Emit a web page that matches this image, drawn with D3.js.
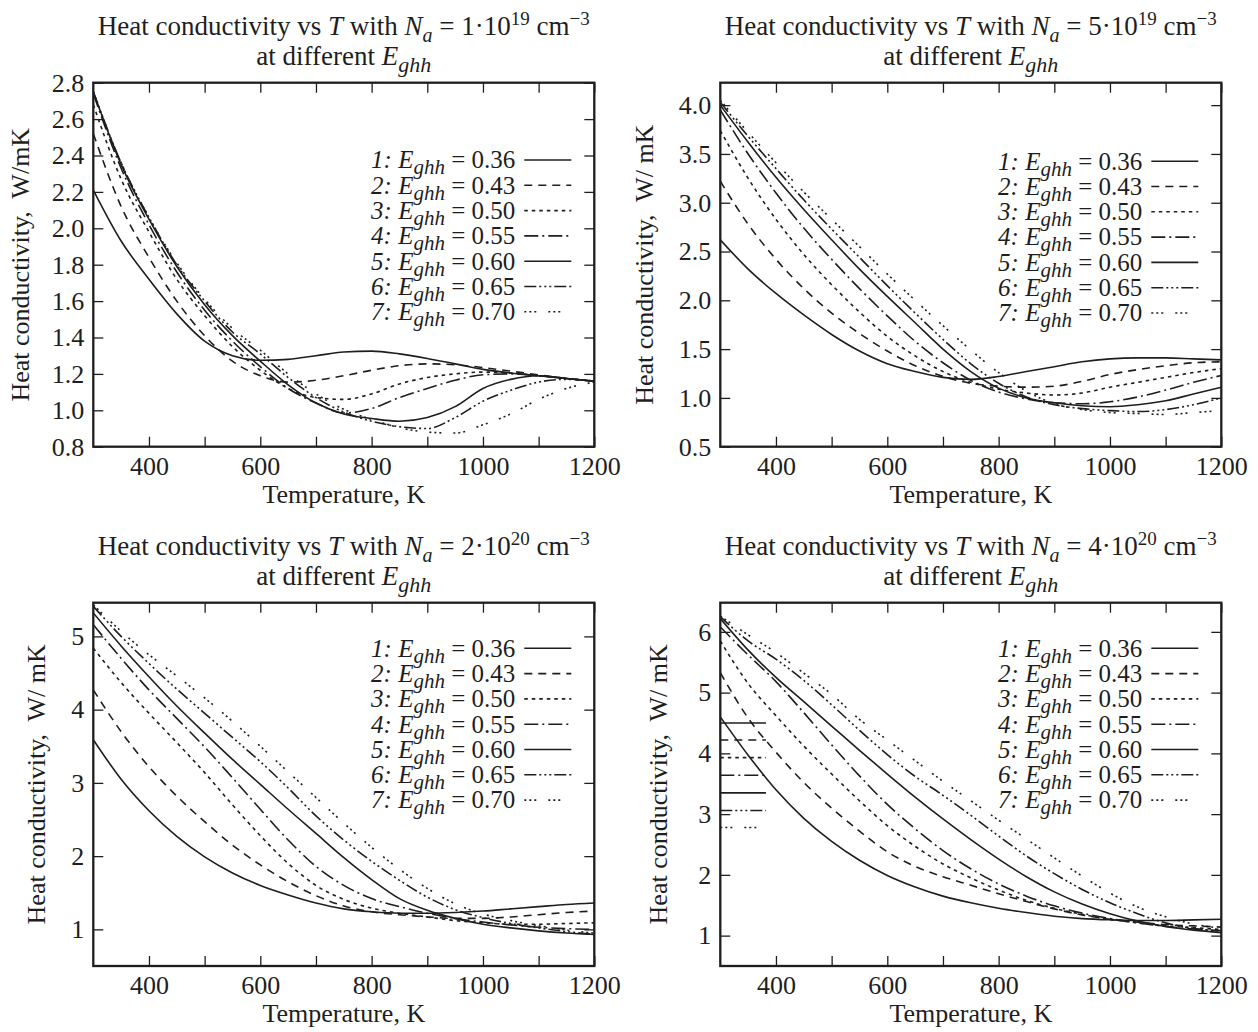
<!DOCTYPE html>
<meta charset="utf-8">

<!-- Load d3.js -->
<script src="https://d3js.org/d3.v7.min.js"></script>

<body>
    <div id="viz"></div>
</body>

<style>
    body { margin: 0; background: #fff; }
    #viz { margin: 0; }
    text {
        font-family: "Liberation Serif", "Times New Roman", serif;
        fill: #1e1e1e;
        white-space: pre;
    }
</style>

<script>
    // temperature grid (K)
    let temps = [300, 350, 400, 450, 500, 550, 600, 650, 700, 750, 800, 850, 900, 950, 1000, 1050, 1100, 1150, 1200];

    // E_ghh values of the 7 curves
    let eghh = ["0.36", "0.43", "0.50", "0.55", "0.60", "0.65", "0.70"];

    // Na = 1e19 cm^-3, curves 1..7
    let kappa1e19 = [
        [2.21, 1.93, 1.72, 1.53, 1.38, 1.30, 1.275, 1.28, 1.30, 1.32, 1.325, 1.31, 1.285, 1.255, 1.225, 1.205, 1.19, 1.175, 1.16],
        [2.52, 2.12, 1.84, 1.60, 1.41, 1.27, 1.19, 1.155, 1.165, 1.19, 1.22, 1.245, 1.255, 1.25, 1.235, 1.215, 1.195, 1.175, 1.16],
        [2.68, 2.27, 1.98, 1.72, 1.52, 1.35, 1.22, 1.12, 1.07, 1.06, 1.09, 1.145, 1.18, 1.20, 1.21, 1.205, 1.19, 1.175, 1.16],
        [2.74, 2.33, 2.02, 1.76, 1.55, 1.38, 1.24, 1.12, 1.04, 0.985, 1.01, 1.07, 1.12, 1.165, 1.195, 1.20, 1.19, 1.175, 1.16],
        [2.75, 2.35, 2.05, 1.79, 1.58, 1.41, 1.27, 1.14, 1.04, 0.98, 0.955, 0.94, 0.96, 1.02, 1.12, 1.17, 1.19, 1.175, 1.16],
        [2.75, 2.36, 2.06, 1.80, 1.60, 1.43, 1.31, 1.18, 1.07, 0.99, 0.94, 0.91, 0.90, 0.96, 1.05, 1.11, 1.155, 1.17, 1.16],
        [2.75, 2.36, 2.06, 1.81, 1.61, 1.45, 1.33, 1.20, 1.09, 1.005, 0.95, 0.905, 0.88, 0.875, 0.92, 0.98, 1.06, 1.12, 1.155]
    ];

    // Na = 5e19 cm^-3
    let kappa5e19 = [
        [2.62, 2.32, 2.07, 1.85, 1.65, 1.48, 1.35, 1.27, 1.21, 1.19, 1.22, 1.27, 1.32, 1.37, 1.40, 1.41, 1.41, 1.40, 1.39],
        [3.22, 2.78, 2.42, 2.12, 1.87, 1.66, 1.48, 1.33, 1.22, 1.15, 1.12, 1.11, 1.12, 1.17, 1.24, 1.29, 1.33, 1.36, 1.37],
        [3.74, 3.25, 2.83, 2.47, 2.16, 1.88, 1.63, 1.43, 1.27, 1.16, 1.09, 1.05, 1.03, 1.05, 1.11, 1.16, 1.21, 1.26, 1.30],
        [3.95, 3.50, 3.10, 2.74, 2.42, 2.12, 1.84, 1.58, 1.36, 1.18, 1.06, 0.99, 0.95, 0.94, 0.96, 1.01, 1.08, 1.16, 1.23],
        [4.00, 3.62, 3.26, 2.93, 2.62, 2.32, 2.04, 1.77, 1.50, 1.27, 1.10, 1.00, 0.95, 0.92, 0.91, 0.93, 0.97, 1.04, 1.11],
        [4.03, 3.68, 3.35, 3.03, 2.73, 2.44, 2.15, 1.87, 1.60, 1.35, 1.15, 1.01, 0.93, 0.89, 0.87, 0.86, 0.88, 0.93, 1.00],
        [4.05, 3.72, 3.41, 3.11, 2.83, 2.55, 2.27, 2.00, 1.74, 1.49, 1.26, 1.07, 0.94, 0.88, 0.85, 0.84, 0.83, 0.85, 0.87]
    ];

    // Na = 2e20 cm^-3
    let kappa2e20 = [
        [3.59, 3.05, 2.62, 2.27, 1.99, 1.77, 1.60, 1.47, 1.36, 1.28, 1.24, 1.22, 1.22, 1.23, 1.25, 1.28, 1.31, 1.34, 1.36],
        [4.27, 3.70, 3.22, 2.82, 2.47, 2.15, 1.88, 1.65, 1.46, 1.32, 1.24, 1.20, 1.17, 1.15, 1.15, 1.17, 1.20, 1.23, 1.25],
        [4.84, 4.37, 3.95, 3.55, 3.14, 2.70, 2.28, 1.90, 1.60, 1.41, 1.29, 1.22, 1.17, 1.12, 1.09, 1.07, 1.07, 1.08, 1.09],
        [5.16, 4.70, 4.27, 3.88, 3.49, 3.07, 2.64, 2.22, 1.86, 1.60, 1.42, 1.31, 1.22, 1.15, 1.10, 1.06, 1.03, 1.01, 1.00],
        [5.32, 4.87, 4.45, 4.05, 3.68, 3.32, 2.98, 2.64, 2.31, 1.98, 1.68, 1.42, 1.26, 1.15, 1.07, 1.02, 0.98, 0.95, 0.93],
        [5.41, 5.00, 4.63, 4.28, 3.95, 3.62, 3.29, 2.93, 2.55, 2.22, 1.93, 1.67, 1.44, 1.27, 1.16, 1.08, 1.02, 0.97, 0.93],
        [5.43, 5.07, 4.75, 4.46, 4.16, 3.84, 3.50, 3.15, 2.80, 2.45, 2.12, 1.82, 1.56, 1.35, 1.21, 1.12, 1.05, 0.99, 0.95]
    ];

    // Na = 4e20 cm^-3
    let kappa4e20 = [
        [4.60, 3.97, 3.40, 2.93, 2.55, 2.24, 1.99, 1.80, 1.65, 1.54, 1.45, 1.38, 1.32, 1.28, 1.26, 1.25, 1.25, 1.26, 1.27],
        [5.33, 4.58, 4.02, 3.52, 3.10, 2.72, 2.38, 2.14, 1.97, 1.83, 1.69, 1.56, 1.44, 1.34, 1.27, 1.22, 1.18, 1.16, 1.14],
        [5.85, 5.15, 4.62, 4.12, 3.66, 3.22, 2.81, 2.47, 2.18, 1.95, 1.75, 1.58, 1.45, 1.35, 1.27, 1.21, 1.16, 1.13, 1.10],
        [6.08, 5.62, 5.18, 4.67, 4.14, 3.63, 3.16, 2.76, 2.40, 2.10, 1.85, 1.65, 1.49, 1.37, 1.28, 1.21, 1.15, 1.11, 1.08],
        [6.22, 5.70, 5.25, 4.85, 4.45, 4.05, 3.66, 3.28, 2.92, 2.58, 2.26, 1.97, 1.72, 1.52, 1.36, 1.24, 1.15, 1.09, 1.05],
        [6.25, 5.85, 5.55, 5.20, 4.80, 4.38, 3.98, 3.62, 3.31, 2.98, 2.64, 2.31, 2.02, 1.76, 1.54, 1.36, 1.21, 1.12, 1.07],
        [6.26, 5.95, 5.66, 5.32, 4.97, 4.56, 4.22, 3.88, 3.54, 3.22, 2.90, 2.59, 2.28, 1.98, 1.70, 1.47, 1.31, 1.19, 1.12]
    ];

    // stray legend sample strokes left in the last panel (levels, W/mK)
    let strayLevels = [4.50, 4.22, 3.93, 3.64, 3.35, 3.06, 2.78];
    let strayT = [300, 382, 370];

    // title parts
    let naMant = ["1", "5", "2", "4"];
    let naExp = ["19", "19", "20", "20"];
    let yUnit = ["W/mK", "W/ mK", "W/ mK", "W/ mK"];

    // axis ranges and ticks
    let yDomains = [[0.8, 2.8], [0.5, 4.23], [0.5, 5.46], [0.5, 6.48]];
    let yTicks = [
        [0.8, 1.0, 1.2, 1.4, 1.6, 1.8, 2.0, 2.2, 2.4, 2.6, 2.8],
        [0.5, 1.0, 1.5, 2.0, 2.5, 3.0, 3.5, 4.0],
        [1, 2, 3, 4, 5],
        [1, 2, 3, 4, 5, 6]
    ];
    let yFormats = [".1f", ".1f", "d", "d"];
    let xTicks = [400, 500, 600, 700, 800, 900, 1000, 1100, 1200];

    let allData = [kappa1e19, kappa5e19, kappa2e20, kappa4e20];

    // dash patterns for curves 1..7
    let dashes = ["none", "8,6", "3.5,4", "14,4,2,4", "none", "12,3,2,3,2,3,2,3", "2,3,2,3,2,12"];

    // frame of each panel
    let layout = [
        {x0: 93.3, x1: 594.3, y0: 82.7, y1: 446.7, yTitleX: -64, legendTop: 77.3},
        {x0: 720.3, x1: 1221.3, y0: 82.7, y1: 446.7, yTitleX: -67, legendTop: 78.5},
        {x0: 93.3, x1: 594.3, y0: 602.7, y1: 966, yTitleX: -48, legendTop: 45.6},
        {x0: 720.3, x1: 1221.3, y0: 602.7, y1: 966, yTitleX: -53, legendTop: 45.6}
    ];

    let ink = "#1e1e1e";
    let serif = "'Liberation Serif', 'Times New Roman', serif";

    let svg = d3.select("#viz")
        .append("svg")
        .attr("width", 1258)
        .attr("height", 1032)
        .style("background", "#fff");

    layout.forEach(function(L, p) {
        let g = svg.append("g");

        let x = d3.scaleLinear().domain([300, 1200]).range([L.x0, L.x1]);
        let y = d3.scaleLinear().domain(yDomains[p]).range([L.y1, L.y0]);

        //ticks (inward, all four sides)
        let xb = g.append("g")
            .attr("transform", `translate(0,${L.y1})`)
            .call(d3.axisBottom(x).tickValues(xTicks).tickSize(-10).tickPadding(10)
                .tickFormat(d => d % 200 === 0 ? d : ""));
        let xt = g.append("g")
            .attr("transform", `translate(0,${L.y0})`)
            .call(d3.axisTop(x).tickValues(xTicks).tickSize(-10).tickFormat(""));
        let yl = g.append("g")
            .attr("transform", `translate(${L.x0},0)`)
            .call(d3.axisLeft(y).tickValues(yTicks[p]).tickSize(-10).tickPadding(9)
                .tickFormat(d3.format(yFormats[p])));
        let yr = g.append("g")
            .attr("transform", `translate(${L.x1},0)`)
            .call(d3.axisRight(y).tickValues(yTicks[p]).tickSize(-10).tickFormat(""));

        [xb, xt, yl, yr].forEach(function(a) {
            a.attr("font-family", null);
            a.select(".domain").remove();
            a.selectAll(".tick line").attr("stroke", ink).attr("stroke-width", 1.3);
            a.selectAll(".tick text")
                .style("font-family", serif)
                .style("font-size", "26px")
                .attr("fill", ink);
        });

        //curves
        let clipId = "clip" + p;
        svg.append("clipPath").attr("id", clipId)
            .append("rect")
            .attr("x", L.x0).attr("y", L.y0)
            .attr("width", L.x1 - L.x0).attr("height", L.y1 - L.y0);

        let line = d3.line()
            .x((d, i) => x(temps[i]))
            .y(d => y(d))
            .curve(d3.curveMonotoneX);

        g.append("g")
            .attr("clip-path", `url(#${clipId})`)
            .selectAll("path")
            .data(allData[p])
            .enter()
            .append("path")
                .attr("d", line)
                .attr("fill", "none")
                .attr("stroke", ink)
                .attr("stroke-width", 1.6)
                .attr("stroke-dasharray", (d, i) => dashes[i]);

        //stray sample strokes in the last panel
        if (p === 3) {
            g.append("g")
                .selectAll("line")
                .data(strayLevels)
                .enter()
                .append("line")
                    .attr("x1", x(strayT[0]))
                    .attr("x2", (d, i) => i === 6 ? x(strayT[2]) : x(strayT[1]))
                    .attr("y1", d => y(d))
                    .attr("y2", d => y(d))
                    .attr("stroke", ink)
                    .attr("stroke-width", 1.6)
                    .attr("stroke-dasharray", (d, i) => dashes[i]);
        }

        //frame
        g.append("rect")
            .attr("x", L.x0).attr("y", L.y0)
            .attr("width", L.x1 - L.x0).attr("height", L.y1 - L.y0)
            .attr("fill", "none")
            .attr("stroke", ink)
            .attr("stroke-width", 2.3);

        //legend
        let leg = g.append("g");
        eghh.forEach(function(e, k) {
            let rowY = L.y0 + L.legendTop + k * 25.3;
            let t = leg.append("text")
                .attr("x", L.x1 - 79)
                .attr("y", rowY + 8.3)
                .attr("text-anchor", "end")
                .attr("font-size", 25);
            t.append("tspan").attr("font-style", "italic").text((k + 1) + ":");
            t.append("tspan").text(" ");
            t.append("tspan").attr("font-style", "italic").text("E");
            t.append("tspan").attr("font-style", "italic").attr("font-size", 21).attr("dy", 6).text("ghh");
            t.append("tspan").attr("dy", -6).text(" = " + e);

            leg.append("line")
                .attr("x1", L.x1 - 70).attr("x2", L.x1 - 23)
                .attr("y1", rowY).attr("y2", rowY)
                .attr("stroke", ink)
                .attr("stroke-width", 1.6)
                .attr("stroke-dasharray", dashes[k]);
        });

        //title
        let cx = (L.x0 + L.x1) / 2;
        let t1 = g.append("text")
            .attr("x", cx).attr("y", L.y0 - 47.7)
            .attr("text-anchor", "middle")
            .attr("font-size", 27);
        t1.append("tspan").text("Heat conductivity vs ");
        t1.append("tspan").attr("font-style", "italic").text("T");
        t1.append("tspan").text(" with ");
        t1.append("tspan").attr("font-style", "italic").text("N");
        t1.append("tspan").attr("font-style", "italic").attr("font-size", 20).attr("dy", 7).text("a");
        t1.append("tspan").attr("dy", -7).text(" = " + naMant[p] + "\u00b710");
        t1.append("tspan").attr("font-size", 19).attr("dy", -10).text(naExp[p]);
        t1.append("tspan").attr("dy", 10).text(" cm");
        t1.append("tspan").attr("font-size", 19).attr("dy", -10).text("\u22123");

        let t2 = g.append("text")
            .attr("x", cx).attr("y", L.y0 - 17.7)
            .attr("text-anchor", "middle")
            .attr("font-size", 27);
        t2.append("tspan").text("at different ");
        t2.append("tspan").attr("font-style", "italic").text("E");
        t2.append("tspan").attr("font-style", "italic").attr("font-size", 22).attr("dy", 7).text("ghh");

        //axis titles
        g.append("text")
            .attr("x", cx).attr("y", L.y1 + 56)
            .attr("text-anchor", "middle")
            .attr("font-size", 26)
            .text("Temperature, K");

        g.append("text")
            .attr("transform", `translate(${L.x0 + L.yTitleX},${(L.y0 + L.y1) / 2}) rotate(-90)`)
            .attr("text-anchor", "middle")
            .attr("font-size", 26)
            .text("Heat conductivity,  " + yUnit[p]);
    });
</script>
